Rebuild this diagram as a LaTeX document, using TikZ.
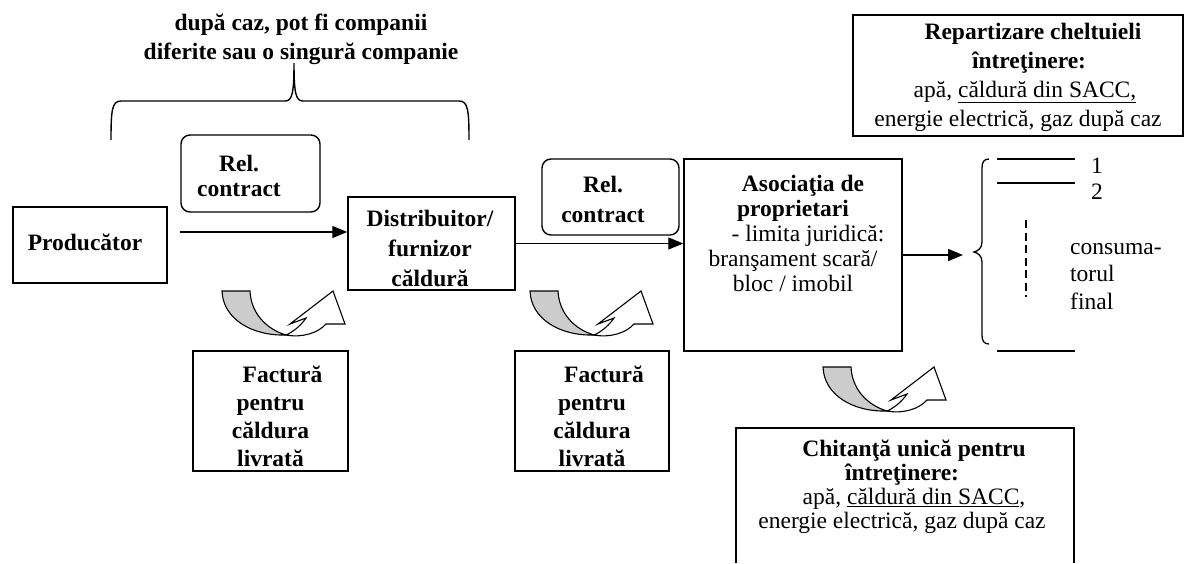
\documentclass[tikz,border=0pt]{standalone}
\usepackage{fontspec}
\setmainfont{Liberation Serif}
\usetikzlibrary{arrows.meta}
\newcommand{\bodysize}{\fontsize{23.5}{25}\selectfont}

\tikzset{
  box/.style={draw, line width=1.4pt, inner sep=0pt},
  relbox/.style={box, rounded corners=9pt},
  txt/.style={font=\bodysize, align=center, inner sep=0pt},
  btxt/.style={txt, font=\bodysize\bfseries},
  flow/.style={line width=1.3pt, -{Triangle[length=15pt,width=12pt]}},
  uturn/.pic={
    \filldraw[fill=gray!40, line width=1.1pt] (0,0) .. controls (1,28) and (30,45) .. (64,44) .. controls (44,38) and (29,22) .. (28,0) -- cycle;
    \filldraw[fill=white, line width=1.1pt] (64,44) .. controls (73,40) and (80,33) .. (84,27) -- (68,33) -- (111,0) -- (123,33) -- (104,33) .. controls (96,42) and (80,47) .. (64,44) -- cycle;
  }
}

\begin{document}
\begin{tikzpicture}[x=1pt, y=-1pt]
  \useasboundingbox (0,0) rectangle (1185,563);

  % note over the first two parties
  \node[btxt] (note) at (301,39) {după caz, pot fi companii\\[4pt]diferite sau o singură companie};
  \draw[line width=1.4pt] (111,140) .. controls (111,110) and (112,101) .. (121,101) -- (285,101)
    .. controls (292,101) and (294,94) .. (294,63) .. controls (294,94) and (296,101) .. (303,101)
    -- (459,101) .. controls (468,101) and (469,110) .. (469,140);

  % parties
  \node[box, minimum width=154, minimum height=76] (prod) at (90,245) {};
  \node[btxt] (prodtxt) at (85,242) {Producător};
  \node[box, minimum width=167, minimum height=93] (dist) at (431.5,243.5) {};
  \node[btxt] (disttxt) at (430,248) {Distribuitor/\\[5pt]furnizor\\[5pt]căldură};
  \node[box, minimum width=218, minimum height=192] (asoc) at (793,255) {};
  \node[txt] (asoctxt) at (793,233.5) {\textbf{\hspace*{20pt}Asociaţia de}\\\textbf{proprietari}\\\hspace*{30pt}- limita juridică:\\branşament scară/\\bloc / imobil};

  % contracts
  \node[relbox, minimum width=139, minimum height=77] (rel1) at (250.5,173.5) {};
  \node[btxt] (rel1txt) at (239,176) {Rel.\\contract};
  \node[relbox, minimum width=137, minimum height=76] (rel2) at (610.5,197) {};
  \node[btxt] (rel2txt) at (603,199) {Rel.\\[5pt]contract};

  % flow of heat
  \coordinate (start) at (180,232);
  \draw[flow] (start) -- (start -| dist.west);
  \draw[flow] (dist.east) -- (dist.east -| asoc.west);
  \coordinate (cons) at (963,255);
  \draw[flow] (asoc.east) -- (cons);

  % final consumers
  \draw[line width=1.3pt] (989,159) .. controls (984,159) and (982,162) .. (982,168) -- (982,242)
    .. controls (982,248) and (978,251) .. (974,252) .. controls (978,253) and (982,256) .. (982,262)
    -- (982,335) .. controls (982,341) and (984,344) .. (989,344);
  \draw[line width=1.3pt] (997,159) -- (1075,159);
  \draw[line width=1.3pt] (997,183) -- (1075,183);
  \draw[line width=1.3pt] (997,351) -- (1075,351);
  \node[txt] (c1) at (1097,166) {1};
  \node[txt] (c2) at (1097,192) {2};
  \draw[line width=1.3pt, dash pattern=on 8pt off 4.5pt] (1026,220) -- (1026,297);
  \node[txt, align=left, anchor=west] (final) at (1070,276.5) {consuma-\\[2.5pt]torul\\[2.5pt]final};

  % invoices
  \pic at (222,291) {uturn};
  \pic at (530,291) {uturn};
  \pic at (823,367) {uturn};
  \node[box, minimum width=155, minimum height=120] (fact1) at (270.5,411) {};
  \node[btxt] (fact1txt) at (270.5,416.5) {\hspace*{24pt}Factură\\[3pt]pentru\\[3pt]căldura\\[3pt]livrată};
  \node[box, minimum width=154, minimum height=120] (fact2) at (592,411) {};
  \node[btxt] (fact2txt) at (592,416.5) {\hspace*{24pt}Factură\\[3pt]pentru\\[3pt]căldura\\[3pt]livrată};

  % costs
  \node[box, minimum width=330, minimum height=121] (repart) at (1018,75.5) {};
  \node[txt] (reparttxt) at (1018,77) {\textbf{\hspace*{30pt}Repartizare cheltuieli}\\[4pt]\textbf{\hspace*{22pt}întreţinere:}\\[4pt]\hspace*{14pt}apă, \underline{căldură din SACC,}\\[4pt]energie electrică, gaz după caz};
  \draw[box] (736,563) |- (1074,428) -- (1074,563);
  \node[txt, font=\fontsize{23.5}{24}\selectfont] (chittxt) at (902,487) {\textbf{\hspace*{24pt}Chitanţă unică pentru}\\\textbf{întreţinere:}\\\hspace*{24pt}apă, \underline{căldură din SACC},\\energie electrică, gaz după caz};
\end{tikzpicture}
\end{document}
